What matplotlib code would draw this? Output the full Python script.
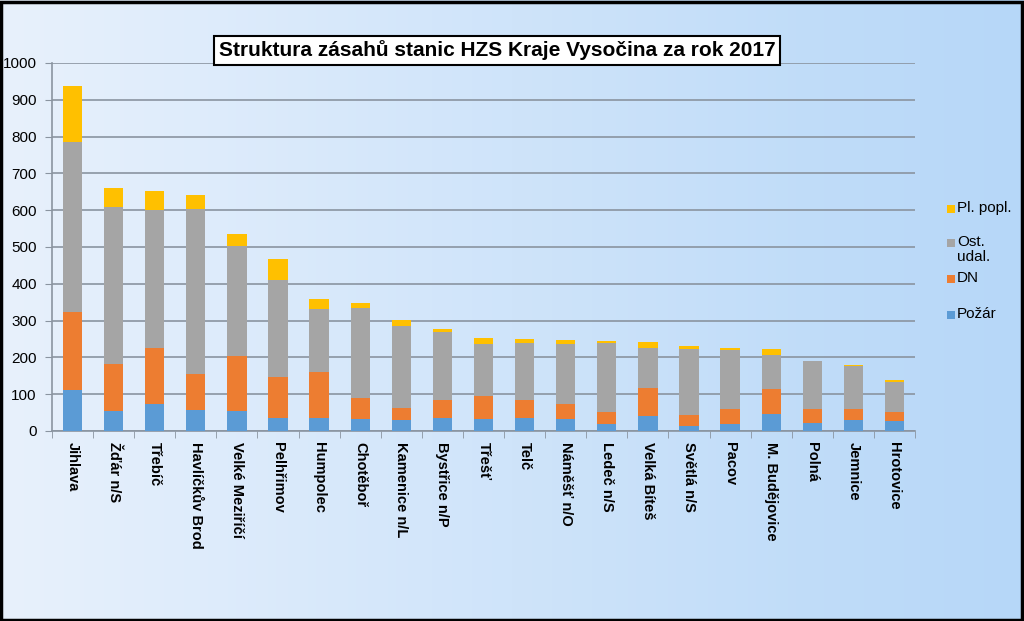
import numpy as np
import matplotlib
matplotlib.use('Agg')
import matplotlib.pyplot as plt
from matplotlib.patches import Rectangle

plt.rcParams['font.family'] = ['Liberation Sans', 'DejaVu Sans']

stanice = ['Jihlava', 'Žďár n/S', 'Třebíč', 'Havlíčkův Brod', 'Velké Meziříčí',
           'Pelhřimov', 'Humpolec', 'Chotěboř', 'Kamenice n/L', 'Bystřice n/P',
           'Třešť', 'Telč', 'Náměšť n/O', 'Ledeč n/S', 'Velká Bíteš',
           'Světlá n/S', 'Pacov', 'M. Budějovice', 'Polná', 'Jemnice', 'Hrotovice']

pozar = [111, 53, 74, 57, 53, 36, 34, 32, 30, 34, 33, 35, 32, 19, 40, 14, 19, 47, 22, 29, 26]
dn = [213, 130, 152, 99, 151, 111, 126, 58, 32, 49, 63, 49, 42, 33, 78, 29, 41, 67, 38, 31, 26]
ost_udal = [461, 427, 374, 447, 300, 262, 171, 243, 224, 187, 140, 154, 163, 187, 107, 181, 161, 92, 130, 116, 81]
pl_popl = [153, 50, 52, 39, 30, 59, 29, 15, 15, 7, 16, 11, 10, 6, 18, 6, 5, 16, 0, 4, 6]

serie_nazvy = ['Požár', 'DN', 'Ost.\nudal.', 'Pl. popl.']
barvy = ['#5b9bd5', '#ed7d31', '#a5a5a5', '#ffc000']

W, H = 1024, 621
fig = plt.figure(figsize=(W / 100, H / 100), dpi=100)

# background gradient over the whole figure
bg = fig.add_axes([0, 0, 1, 1], zorder=-10)
grad = np.linspace(0, 1, 256).reshape(1, -1)
cmap = matplotlib.colors.LinearSegmentedColormap.from_list('bg', ['#e8f1fc', '#b6d7f8'])
bg.imshow(grad, aspect='auto', cmap=cmap, extent=[0, 1, 0, 1])
bg.set_xlim(0, 1)
bg.set_ylim(0, 1)
bg.axis('off')
bg.add_patch(Rectangle((0.001, 0.002), 0.997, 0.995, fill=False, edgecolor='black',
                       linewidth=2.5, transform=bg.transAxes))

ax = fig.add_axes([52 / W, 190 / H, 863 / W, 368 / H])
ax.patch.set_alpha(0)

x = np.arange(len(stanice))
dolni = np.zeros(len(stanice))
for hodnoty, nazev, barva in zip([pozar, dn, ost_udal, pl_popl], serie_nazvy, barvy):
    ax.bar(x, hodnoty, width=0.47, bottom=dolni, color=barva, label=nazev, zorder=3)
    dolni += np.array(hodnoty)

ax.set_xlim(-0.5, len(stanice) - 0.5)
ax.set_ylim(0, 1000)
ax.set_yticks(np.arange(0, 1001, 100))
ax.yaxis.grid(True, color='#8a94a0', linewidth=1.2, zorder=0)
ax.set_axisbelow(True)

ax.set_xticks(x)
ax.set_xticklabels(stanice, rotation=270, fontsize=10.5, fontweight='bold', va='top', ha='center')
ax.set_xticks(np.arange(-0.5, len(stanice)), minor=True)
ax.tick_params(axis='x', which='major', length=0, pad=8)
ax.tick_params(axis='x', which='minor', length=5, color='#8a94a0')
ax.tick_params(axis='y', length=5, color='#8a94a0', labelsize=11, pad=6)

for s in ['top', 'right']:
    ax.spines[s].set_visible(False)
for s in ['left', 'bottom']:
    ax.spines[s].set_color('#8a94a0')
    ax.spines[s].set_linewidth(1.2)

# legend drawn like Excel does it (uneven spacing)
leg_y = {'Pl. popl.': 209, 'Ost.\nudal.': 243, 'DN': 279, 'Požár': 315}
for nazev, barva in zip(serie_nazvy, barvy):
    yy = 1 - leg_y[nazev] / H
    fig.patches.append(Rectangle((947 / W, yy - 4 / H), 8 / W, 8 / H, facecolor=barva,
                                 edgecolor='none', transform=fig.transFigure))
    fig.text(957 / W, yy + 8 / H, nazev, ha='left', va='top', fontsize=11,
             linespacing=1.05)

fig.text(0.4855, 0.919, 'Struktura zásahů stanic HZS Kraje Vysočina za rok 2017',
         ha='center', va='center', fontsize=15, fontweight='bold',
         bbox=dict(boxstyle='square,pad=0.22', facecolor='white', edgecolor='black', linewidth=1.5))

fig.savefig('out.png', dpi=100)
